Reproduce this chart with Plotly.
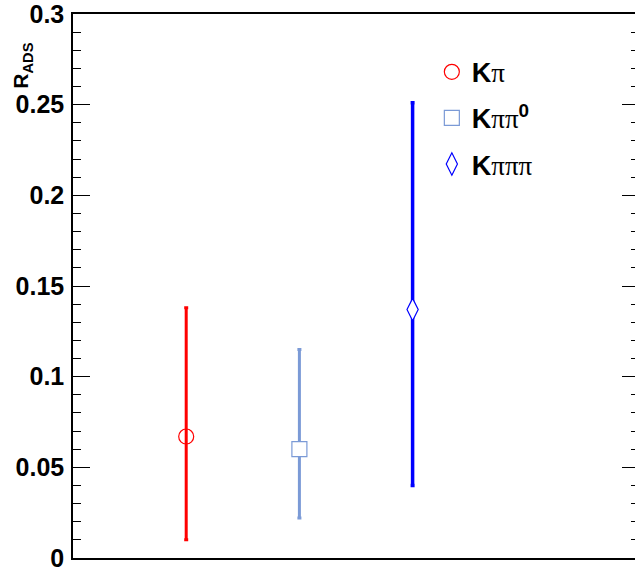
import plotly.graph_objects as go

# data
modes = ["Kπ", "Kππ0", "Kπππ"]
legend_labels = [
    "K<span style='font-family:Liberation Serif;font-weight:normal'>π</span>",
    "K<span style='font-family:Liberation Serif;font-weight:normal'>ππ</span><sup>0</sup>",
    "K<span style='font-family:Liberation Serif;font-weight:normal'>πππ</span>",
]
x_pos = [1, 2, 3]
r_ads = [0.067, 0.060, 0.137]
err_plus = [0.071, 0.055, 0.114]
err_minus = [0.057, 0.038, 0.097]
colors = ["#ff0000", "#7b9ad6", "#0000ff"]
symbols = ["circle", "square", "diamond-tall"]
fills = ["rgba(0,0,0,0)", "white", "white"]
sizes = [15, 15, 16]
err_width = [3, 3, 3.5]

y_ticks = [0, 0.05, 0.1, 0.15, 0.2, 0.25, 0.3]
y_ticktext = ["0", "0.05", "0.1", "0.15", "0.2", "0.25", "0.3"]

fig = go.Figure()
for i in range(3):
    fig.add_trace(go.Scatter(
        x=[x_pos[i]], y=[r_ads[i]],
        mode="markers",
        name=legend_labels[i],
        legendgroup=modes[i],
        marker=dict(symbol=symbols[i], size=sizes[i], color=fills[i],
                    line=dict(color=colors[i], width=1.2)),
        error_y=dict(type="data", symmetric=False,
                     array=[err_plus[i]], arrayminus=[err_minus[i]],
                     color=colors[i], thickness=err_width[i], width=2),
    ))

fig.update_layout(
    width=641, height=573,
    margin=dict(l=73, r=0, t=14, b=15),
    plot_bgcolor="white", paper_bgcolor="white",
    font=dict(family="Liberation Sans, Arial, sans-serif", color="black"),
    showlegend=True,
    legend=dict(
        x=0.634, y=0.938, xanchor="left", yanchor="top",
        font=dict(size=27, weight="bold", family="Liberation Sans, Arial, sans-serif"),
        bgcolor="rgba(0,0,0,0)", tracegroupgap=8,
    ),
    xaxis=dict(range=[0, 5], showgrid=False, zeroline=False,
               showline=True, linecolor="black", linewidth=1.5,
               mirror=True, ticks="", showticklabels=False),
    yaxis=dict(range=[0, 0.30001], showgrid=False, zeroline=False,
               showline=True, linecolor="black", linewidth=1.5,
               mirror="ticks", ticks="inside", ticklen=17, tickwidth=1.2,
               tickcolor="black",
               tickvals=y_ticks, ticktext=y_ticktext,
               tickfont=dict(size=25, weight="bold"),
               ticklabelstandoff=2, ticklabeloverflow="allow",
               minor=dict(dtick=0.01, ticks="inside", ticklen=8,
                          tickwidth=1.2, tickcolor="black", showgrid=False)),
    annotations=[dict(
        text="<b>R<sub>ADS</sub></b>", textangle=-90,
        xref="paper", yref="paper", x=-0.09, y=0.905,
        xanchor="center", yanchor="middle", showarrow=False,
        font=dict(size=21, family="Liberation Sans, Arial, sans-serif"),
    )],
)

fig.write_html("out.html",
               config={"displayModeBar": False},
               post_script="document.body.style.margin='0';document.body.style.overflow='hidden';")
